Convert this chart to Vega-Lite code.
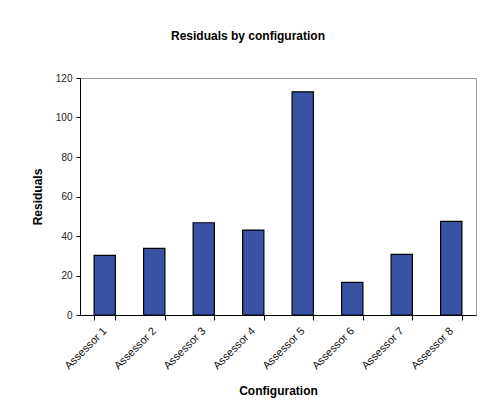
{
  "$schema": "https://vega.github.io/schema/vega-lite/v6.json",
  "autosize": {"type": "none"},
  "padding": {"left": 80, "top": 78, "right": 5, "bottom": 96},
  "width": 396,
  "height": 237,
  "background": "white",
  "title": {
    "text": "Residuals by configuration",
    "font": "Liberation Sans",
    "fontSize": 12,
    "fontWeight": "bold",
    "color": "#000000",
    "anchor": "middle",
    "frame": "group",
    "dx": -30,
    "offset": 30
  },
  "data": {
    "values": [
      {"configuration": "Assessor 1", "residuals": 30.2},
      {"configuration": "Assessor 2", "residuals": 33.7},
      {"configuration": "Assessor 3", "residuals": 46.7},
      {"configuration": "Assessor 4", "residuals": 43.0},
      {"configuration": "Assessor 5", "residuals": 113.0},
      {"configuration": "Assessor 6", "residuals": 16.5},
      {"configuration": "Assessor 7", "residuals": 30.7},
      {"configuration": "Assessor 8", "residuals": 47.4}
    ]
  },
  "mark": {"type": "bar", "fill": "#3953A4", "stroke": "#000000", "strokeWidth": 1.2},
  "encoding": {
    "x": {
      "field": "configuration",
      "type": "nominal",
      "sort": null,
      "scale": {"paddingInner": 0.57, "paddingOuter": 0.285},
      "axis": {
        "title": "Configuration",
        "titleFont": "Liberation Sans",
        "titleFontSize": 12,
        "titleFontWeight": "bold",
        "titleColor": "#000000",
        "titleY": 75,
        "titleBaseline": "middle",
        "labelFont": "Liberation Sans",
        "labelFontSize": 11,
        "labelColor": "#111111",
        "labelAngle": -45,
        "labelAlign": "right",
        "labelBaseline": "middle",
        "labelPadding": 9,
        "tickBand": "extent",
        "tickSize": 5,
        "tickColor": "#000000",
        "domainColor": "#000000",
        "grid": false
      }
    },
    "y": {
      "field": "residuals",
      "type": "quantitative",
      "scale": {"domain": [0, 120], "nice": false},
      "axis": {
        "title": "Residuals",
        "titleFont": "Liberation Sans",
        "titleFontSize": 12,
        "titleFontWeight": "bold",
        "titleColor": "#000000",
        "titleX": -43,
        "titleY": 118.5,
        "titleBaseline": "middle",
        "values": [0, 20, 40, 60, 80, 100, 120],
        "labelFont": "Liberation Sans",
        "labelFontSize": 10,
        "labelColor": "#222222",
        "labelPadding": 4,
        "tickSize": 4,
        "tickColor": "#000000",
        "domainColor": "#000000",
        "grid": false
      }
    }
  },
  "config": {
    "view": {"stroke": "#999999", "strokeWidth": 1},
    "axis": {"domainWidth": 1, "tickWidth": 1}
  }
}
